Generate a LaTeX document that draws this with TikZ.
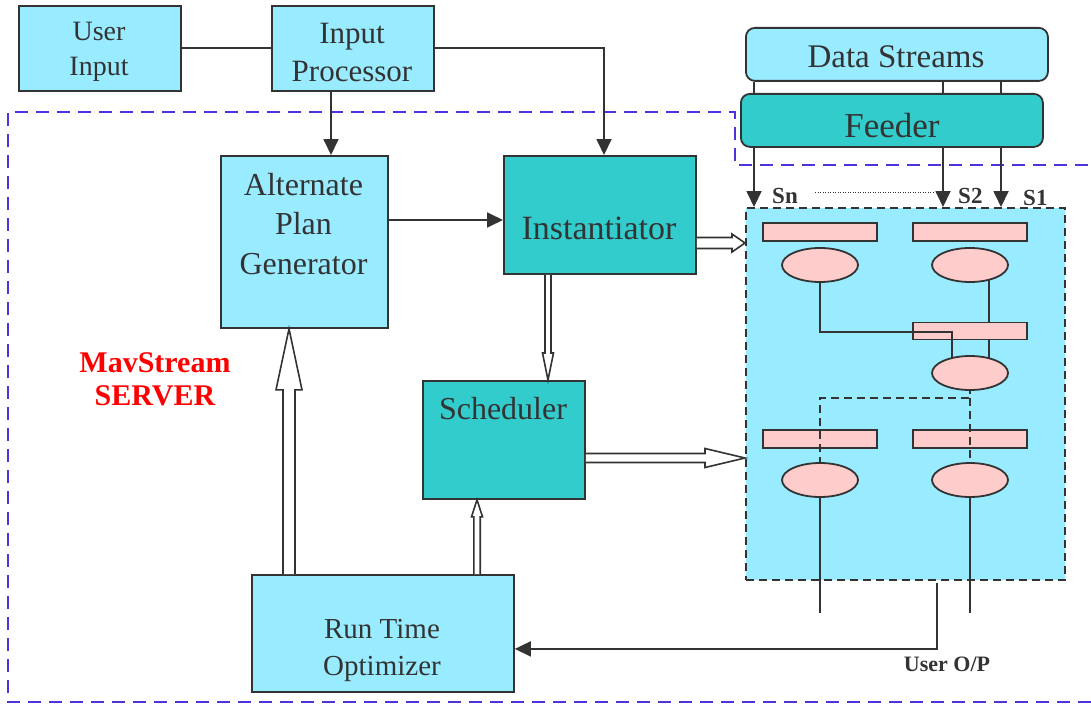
\documentclass[tikz,border=0pt]{standalone}
\usepackage{fontspec}
\setmainfont{Liberation Serif}
\usetikzlibrary{arrows.meta,calc,shapes.geometric}
\definecolor{ink}{HTML}{333333}
\definecolor{lcyan}{HTML}{99EBFF}
\definecolor{tealb}{HTML}{33CCCC}
\definecolor{pinkb}{HTML}{FFCCCC}
\definecolor{bluedash}{RGB}{80,50,220}
\pgfdeclarelayer{fore}
\pgfsetlayers{main,fore}
\tikzset{
  box/.style={draw=ink, line width=1.8pt, inner sep=0pt, anchor=north west},
  rbox/.style={box, rounded corners=9pt},
  fs/.style={font=\fontsize{#1}{#1}\selectfont},
  bfs/.style={font=\fontsize{#1}{#1}\selectfont\bfseries},
  txt/.style={text=ink, anchor=base, inner sep=0pt},
  arr/.style={draw=ink, line width=1.8pt, -{Triangle[length=16pt,width=15pt]}},
  ln/.style={draw=ink, line width=1.8pt},
  dl/.style={draw=ink, line width=1.8pt, dash pattern=on 8pt off 5pt},
  fat/.style={draw=ink, line width=1.6pt, fill=white, line join=miter},
  prect/.style={draw=ink, line width=1.8pt, fill=pinkb, minimum width=114pt, minimum height=18pt, inner sep=0pt},
  pell/.style={ellipse, draw=ink, line width=1.8pt, fill=pinkb, minimum width=76pt, minimum height=34pt, inner sep=0pt},
}
\newcommand\fatarrow[5]{%
  \draw[fat] ($(#1)!#3!90:(#2)$) -- ($(#2)!#5!(#1)!#3!-90:(#1)$) -- ($(#2)!#5!(#1)!#4!-90:(#1)$) -- (#2) -- ($(#2)!#5!(#1)!#4!90:(#1)$) -- ($(#2)!#5!(#1)!#3!90:(#1)$) -- ($(#1)!#3!-90:(#2)$);
}
\begin{document}
\begin{tikzpicture}[x=1pt, y=-1pt]
\useasboundingbox (0,0) rectangle (1091,706);

% server boundary
\draw[bluedash, line width=2pt, dash pattern=on 13pt off 8pt] (1091,702) -- (8,702) -- (8,112) -- (735,112) -- (735,165) -- (1091,165);

% boxes
\node[box, fill=lcyan, minimum width=162pt, minimum height=85pt] (ui) at (18,5) {};
\node[box, fill=lcyan, minimum width=162pt, minimum height=85pt] (ip) at (271,5) {};
\node[box, fill=lcyan, minimum width=167pt, minimum height=172pt] (apg) at (220,155) {};
\node[box, fill=tealb, minimum width=192pt, minimum height=118pt] (inst) at (503,155) {};
\node[box, fill=tealb, minimum width=162pt, minimum height=118pt] (sch) at (422,380) {};
\node[box, fill=lcyan, minimum width=262pt, minimum height=117pt] (rto) at (251,574) {};
\node[rbox, fill=lcyan, minimum width=302pt, minimum height=53pt] (ds) at (745,27) {};
\node[rbox, fill=tealb, minimum width=302pt, minimum height=53pt] (fd) at (740,93) {};
\node[box, fill=lcyan, dash pattern=on 8pt off 5pt, minimum width=319pt, minimum height=372pt] (main) at (745,207) {};

% texts
\node[txt, fs=28] (t1) at (99,41) {User};
\node[txt, fs=28] (t2) at (99,76) {Input};
\node[txt, fs=31] (t3) at (352,44) {Input};
\node[txt, fs=31] (t4) at (352,82) {Processor};
\node[txt, fs=32] (t5) at (303.5,195) {Alternate};
\node[txt, fs=32] (t6) at (303.5,234) {Plan};
\node[txt, fs=32] (t7) at (303.5,274) {Generator};
\node[txt, fs=34] (t8) at (599,239) {Instantiator};
\node[txt, fs=32] (t9) at (503,419) {Scheduler};
\node[txt, fs=29] (t10) at (382,638) {Run Time};
\node[txt, fs=29] (t11) at (382,675) {Optimizer};
\node[txt, fs=33] (t12) at (896,68) {Data Streams};
\node[txt, fs=35] (t13) at (892,137) {Feeder};
\node[txt, bfs=30, text=red] (t14) at (155,372) {MavStream};
\node[txt, bfs=30, text=red] (t15) at (155,405) {SERVER};
\node[txt, bfs=22] (t16) at (947,671) {User O/P};
\node[txt, bfs=23, anchor=base west] (sn) at (772,203) {Sn};
\node[txt, bfs=23, anchor=base west] (s2) at (958,203) {S2};
\node[txt, bfs=23, anchor=base west] (s1) at (1023,205) {S1};

% operator tree
\node[prect] (r1) at (820,232) {};
\node[prect] (r2) at (970,232) {};
\node[prect, minimum height=17pt] (r3) at (970,331) {};
\node[prect] (r4) at (820,439) {};
\node[prect] (r5) at (970,439) {};
\begin{pgfonlayer}{fore}
\node[pell] (e1) at (820,265) {};
\node[pell] (e2) at (970,265) {};
\node[pell] (e3) at (970,373) {};
\node[pell] (e4) at (820,480) {};
\node[pell] (e5) at (970,480) {};
\end{pgfonlayer}

\coordinate (c1) at (952,332);
\coordinate (x989) at (989,0);
\coordinate (c2) at (970,398);
\coordinate (y613) at (0,613);
\draw[ln] (e1.center) |- (c1) -- (c1 |- e3.center);
\draw[ln] (e2.center -| x989) -- (r3.north -| x989);
\draw[ln] (r3.south -| x989) -- (e3.center -| x989);
\draw[dl] (e3.center) -- (c2) -| (e4.center);
\draw[dl] (c2) -- (e5.center);
\draw[ln] (e4.center) -- (e4.center |- y613);
\draw[ln] (e5.center) -- (e5.center |- y613);

% plain connectors
\coordinate (x604) at (604,0);
\coordinate (x331) at (331,0);
\coordinate (y220) at (0,220);
\draw[ln] (ui) -- (ip);
\draw[arr] (ip.east) -| (inst.north -| x604);
\draw[arr] (ip.south -| x331) -- (apg.north -| x331);
\draw[arr] (apg.east |- y220) -- (inst.west |- y220);

% streams
\coordinate (xa) at (754,0);
\coordinate (xb) at (943,0);
\coordinate (xc) at (1001,0);
\foreach \k in {xa,xb,xc}{
  \draw[ln] (ds.south -| \k) -- (fd.north -| \k);
  \draw[arr] (fd.south -| \k) -- (main.north -| \k);
}
\coordinate (d1) at (815,192);
\coordinate (d2) at (935,192);
\draw[ink, line width=1pt, dash pattern=on 1pt off 1.5pt] (d1) -- (d2);

% user output
\coordinate (uop) at (937,583);
\draw[arr] (uop) |- ([yshift=-15.5pt]rto.east);

% fat arrows
\coordinate (y243) at (0,243);
\coordinate (y458) at (0,458);
\coordinate (x548) at (548,0);
\coordinate (x477) at (477,0);
\coordinate (x289) at (289,0);
\coordinate (f1s) at (inst.east |- y243);
\coordinate (f1e) at (main.west |- y243);
\coordinate (f2s) at (inst.south -| x548);
\coordinate (f2e) at (sch.north -| x548);
\coordinate (f3s) at (sch.east |- y458);
\coordinate (f3e) at (main.west |- y458);
\coordinate (f4s) at (rto.north -| x477);
\coordinate (f4e) at (sch.south -| x477);
\coordinate (f5s) at (rto.north -| x289);
\coordinate (f5e) at (apg.south -| x289);
\fatarrow{f1s}{f1e}{5.5pt}{9pt}{13pt}
\fatarrow{f2s}{f2e}{3pt}{5.5pt}{27pt}
\fatarrow{f3s}{f3e}{4.5pt}{9.5pt}{40pt}
\fatarrow{f4s}{f4e}{3.2pt}{5.5pt}{17pt}
\fatarrow{f5s}{f5e}{6pt}{13pt}{61pt}
\end{tikzpicture}
\end{document}
